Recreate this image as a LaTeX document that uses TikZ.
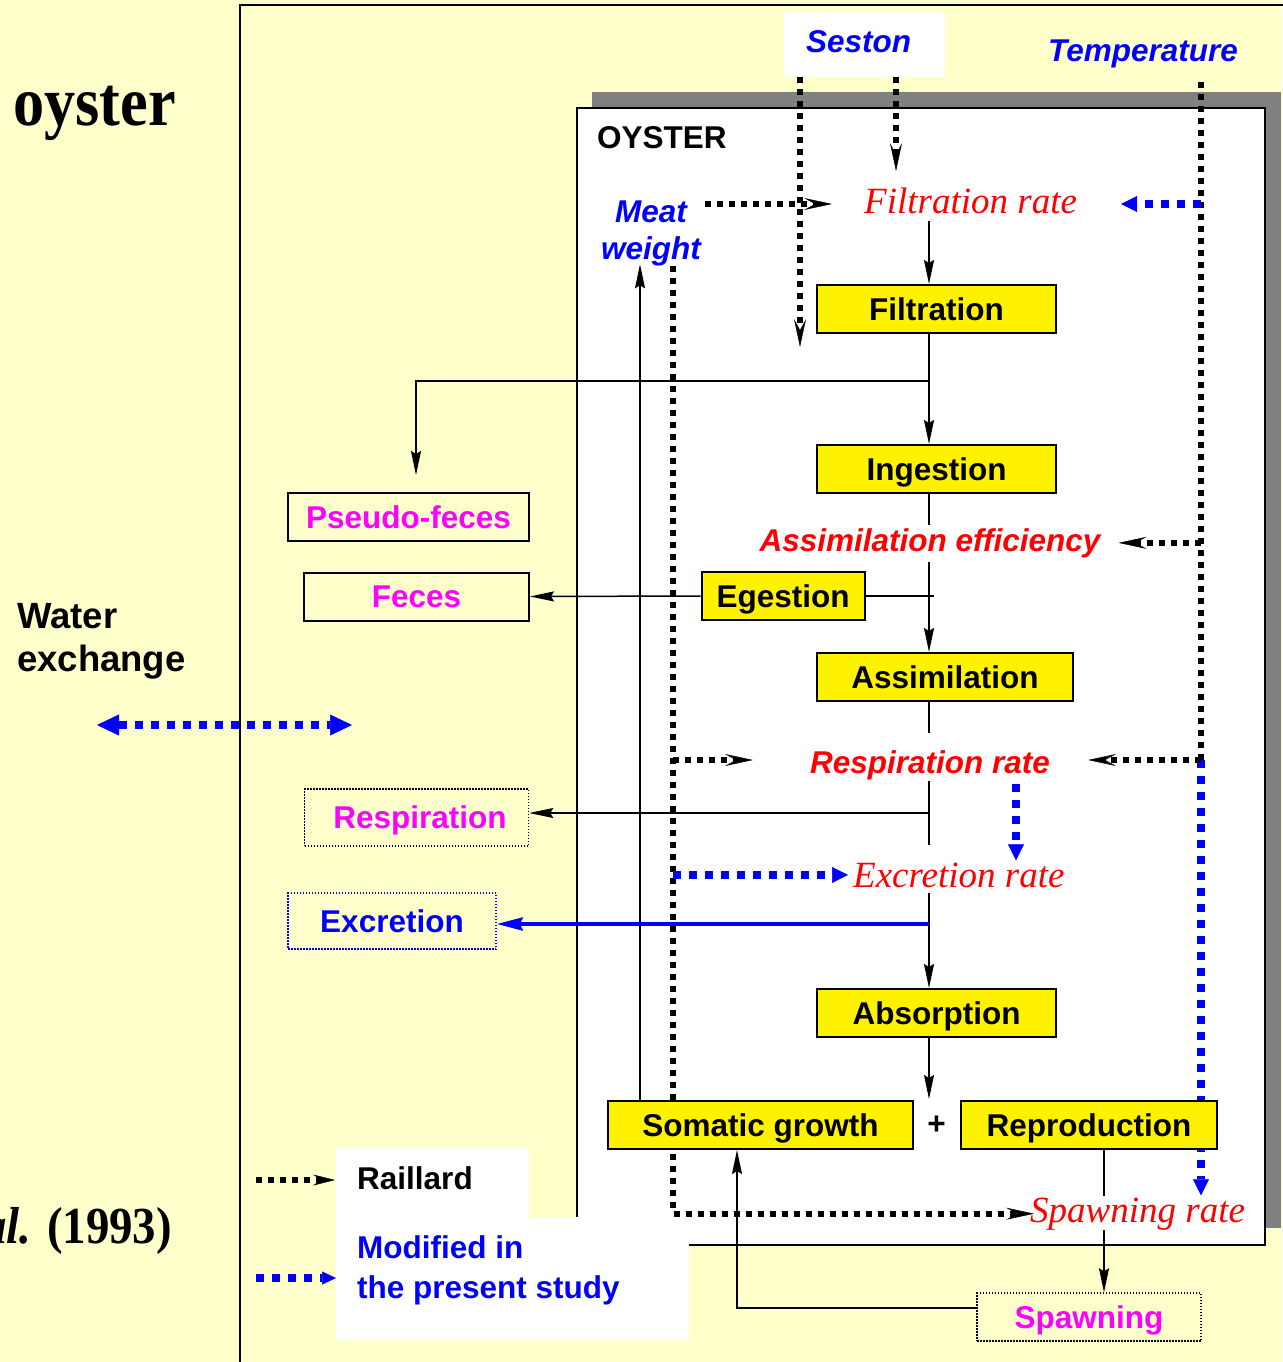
\documentclass[tikz,border=0pt]{standalone}
\usepackage{graphicx}
\usepackage{fontspec}
\setmainfont{Liberation Serif}
\setsansfont{Liberation Sans}
\usetikzlibrary{arrows.meta}
\definecolor{bgyellow}{RGB}{255,255,204}
\definecolor{shadowgray}{RGB}{128,128,128}
\definecolor{mag}{RGB}{255,0,255}
\newcommand{\sz}{\fontsize{31.5}{37}\selectfont}
\pgfdeclarelayer{bglayer}
\pgfdeclarelayer{connlayer}
\pgfsetlayers{bglayer,connlayer,main}
\begin{document}
\begin{tikzpicture}[x=1pt,y=-1pt,
  ybox/.style={draw, line width=2pt, fill=yellow, minimum height=48pt, inner sep=0pt, text height=22.6pt, text depth=0pt, font=\sffamily\bfseries\sz},
  obox/.style={draw, line width=2pt, minimum height=48pt, inner sep=0pt, text height=22.6pt, text depth=0pt, font=\sffamily\bfseries\sz, text=mag},
  dbox/.style={draw, line width=1.5pt, dash pattern=on 1.5pt off 1.5pt, inner sep=0pt, text height=22.6pt, text depth=0pt, font=\sffamily\bfseries\sz, text=mag},
  lbl/.style={inner sep=0pt, font=\sffamily\bfseries\sz},
  ilbl/.style={inner sep=0pt, font=\sffamily\bfseries\itshape\sz},
  rlbl/.style={inner sep=0pt, text=red, font=\rmfamily\itshape\fontsize{37}{40}\selectfont},
  line/.style={line width=1.5pt},
  flow/.style={line width=1.5pt, -{Stealth[length=24pt,width=10pt,inset=3pt]}},
  bflow/.style={blue, line width=4pt, -{Stealth[length=26pt,width=13pt,inset=3pt]}},
  kdot/.style={line width=6pt, dash pattern=on 6pt off 6pt},
  kdotarr/.style={kdot, -{Stealth[length=28pt,width=12pt,inset=11pt,line width=0.5pt]}},
  bdot/.style={blue, line width=8pt, dash pattern=on 8pt off 8pt},
  bdotarr/.style={bdot, -{Triangle[length=16pt,width=16pt,line width=0.5pt]}},
]
\useasboundingbox (0,0) rectangle (1282,1362);
\begin{pgfonlayer}{bglayer}
  \fill[bgyellow] (0,0) rectangle (1282,1362);
  \draw[line width=2.5pt] (240,1370) -- (240,5) -- (1290,5);
  \fill[shadowgray] (592,92) rectangle (1281,1228);
  \draw[fill=white, line width=2pt] (577,108) rectangle (1265,1245);
  \fill[white] (336,1148) rectangle (529,1219);
  \fill[white] (336,1217) rectangle (689,1340);
\end{pgfonlayer}

% left titles
\node[inner sep=0pt, anchor=base west, font=\rmfamily\bfseries\fontsize{70}{70}\selectfont] (title) at (13,125) {\scalebox{0.89}[1]{oyster}};
\node[inner sep=0pt, anchor=base east, font=\rmfamily\bfseries\fontsize{52}{52}\selectfont] (cite) at (172,1243) {\scalebox{0.9}[1]{\textit{al.} (1993)}};
\node[inner sep=0pt, font=\sffamily\bfseries\fontsize{36.5}{43}\selectfont, align=left, anchor=north west] (water) at (17,603) {Water\\exchange};

% inputs
\node[fill=white, inner sep=0pt, minimum width=161pt, minimum height=65pt] (sestonbox) at (864.5,44.5) {};
\node[ilbl, text=blue, anchor=base west] (seston) at (806,53) {Seston};
\node[ilbl, text=blue, anchor=base west] (temp) at (1048,62) {Temperature};
\node[lbl, anchor=base west] (oyst) at (597,149) {OYSTER};
\node[ilbl, text=blue, align=center] (meat) at (651,233.5) {Meat\\weight};

% rates
\node[rlbl, anchor=base west] (filtrate) at (864,213) {Filtration rate};
\node[ilbl, text=red, anchor=base] (assimeff) at (930,551) {Assimilation efficiency};
\node[ilbl, text=red, anchor=base] (resprate) at (930,773) {Respiration rate};
\node[rlbl, anchor=base west] (excrate) at (853,887) {Excretion rate};
\node[rlbl, anchor=base west] (spawnrate) at (1030,1222) {Spawning rate};

% process boxes
\node[ybox, minimum width=239pt] (filtbox) at (936.5,309) {Filtration};
\node[ybox, minimum width=239pt] (ingest) at (936.5,469) {Ingestion};
\node[ybox, minimum width=163pt] (egest) at (783,596) {Egestion};
\node[ybox, minimum width=256pt] (assim) at (945,677) {Assimilation};
\node[ybox, minimum width=239pt] (absorp) at (936.5,1013) {Absorption};
\node[ybox, minimum width=305pt] (somatic) at (760.5,1125) {Somatic growth};
\node[ybox, minimum width=256pt] (repro) at (1089,1125) {Reproduction};
\node[lbl] (plus) at (936.5,1125) {+};

% outputs
\node[obox, minimum width=241pt] (pseudo) at (408.5,517) {Pseudo-feces};
\node[obox, minimum width=225pt] (feces) at (416.5,596.5) {Feces};
\node[dbox, minimum width=224pt, minimum height=57pt] (respbox) at (416.5,817.5) {\hspace*{7pt}Respiration};
\node[dbox, draw=blue, text=blue, minimum width=208pt, minimum height=56pt] (excbox) at (392,921) {Excretion};
\node[dbox, minimum width=224pt, minimum height=48pt] (spawnbox) at (1089,1317) {Spawning};

% legend
\node[lbl, anchor=base west] (raillard) at (357,1189) {Raillard};
\node[inner sep=0pt, font=\sffamily\bfseries\fontsize{31.5}{40}\selectfont, text=blue, align=left, anchor=north west] (modif) at (357,1235.5) {Modified in\\the present study};

% helper coordinates
\coordinate (sp) at (929,0);
\coordinate (xt) at (1201,0);
\coordinate (xd) at (673,0);
\coordinate (xm) at (640,0);
\coordinate (xs2) at (896,0);
\coordinate (xe) at (1016,0);
\coordinate (xpf) at (416,0);
\coordinate (xr) at (1104,0);
\coordinate (xsg) at (737,0);
\coordinate (s1end) at (800,347);
\coordinate (tf) at (1201,204);
\coordinate (tj) at (1201,760);
\coordinate (pj) at (929,381);
\coordinate (rj) at (929,813);
\coordinate (ej) at (929,924);
\coordinate (plustop) at (929,1099);
\coordinate (wl) at (97,725);
\coordinate (wr) at (352,725);
\coordinate (lk) at (256,1180);
\coordinate (lb) at (256,1278);

\begin{pgfonlayer}{connlayer}
  % Seston
  \draw[kdotarr] (sestonbox.south -| s1end) -- (s1end);
  \draw[kdotarr, shorten >=16pt] (sestonbox.south -| xs2) -- (filtrate.north -| xs2);
  % Temperature
  \draw[kdot, shorten <=13pt] (temp.south -| xt) -- (tj);
  \draw[bdotarr, shorten >=2pt] (tj) -- (spawnrate.north -| xt);
  \draw[bdot, -{Triangle[length=16pt,width=16pt,line width=0.5pt]}, shorten >=44pt] (tf) -- (tf -| filtrate.east);
  \draw[kdotarr, shorten >=18pt] (assimeff.east -| xt) -- (assimeff.east);
  \draw[kdotarr, shorten >=38pt] (tj) -- (resprate.east |- tj);
  % Meat weight
  \draw[kdotarr, shorten <=4pt, shorten >=32pt] (meat.east |- tf) -- (filtrate.west |- tf);
  \draw[kdotarr, shorten >=-4pt] (meat.south -| xd) |- (spawnrate.west);
  \draw[kdotarr, shorten >=57pt] (xd |- tj) -- (resprate.west |- tj);
  \draw[bdotarr, shorten >=5pt] (xd |- excrate.west) -- (excrate.west);
  \draw[flow, shorten >=-2pt] (somatic.north -| xm) -- (meat.south -| xm);
  % respiration rate -> excretion rate
  \draw[bdotarr, shorten <=4pt, shorten >=2pt] (resprate.south -| xe) -- (excrate.north -| xe);
  % main spine
  \draw[flow, shorten <=7pt] (filtrate.south -| sp) -- (filtbox.north -| sp);
  \draw[flow] (filtbox.south -| sp) -- (ingest.north -| sp);
  \draw[flow, shorten >=17pt] (pj) -| (pseudo.north -| xpf);
  \draw[line, shorten >=3pt] (ingest.south -| sp) -- (assimeff.north -| sp);
  \draw[flow, shorten <=4pt] (assimeff.south -| sp) -- (assim.north -| sp);
  \draw[line, shorten >=-5pt] (egest.east) -- (egest.east -| sp);
  \draw[flow] (egest.west) -- (feces.east);
  \draw[line, shorten >=17pt] (assim.south -| sp) -- (resprate.north -| sp);
  \draw[line, shorten <=1pt, shorten >=17pt] (resprate.south -| sp) -- (excrate.north -| sp);
  \draw[flow] (rj) -- (respbox.east |- rj);
  \draw[flow, shorten <=5pt] (excrate.south -| sp) -- (absorp.north -| sp);
  \draw[bflow] (ej) -- (excbox.east |- ej);
  \draw[flow] (absorp.south -| sp) -- (plustop);
  % reproduction -> spawning
  \draw[line, shorten >=1pt] (repro.south -| xr) -- (spawnrate.north -| xr);
  \draw[flow] (spawnrate.south -| xr) -- (spawnbox.north -| xr);
  \draw[flow] ([yshift=9pt]spawnbox.west) -| (somatic.south -| xsg);
  % water exchange
  \draw[bdot, {Triangle[length=22pt,width=21pt,line width=0.5pt]}-{Triangle[length=22pt,width=21pt,line width=0.5pt]}] (wl) -- (wr);
  % legend
  \draw[kdot, -{Stealth[length=22pt,width=11pt,inset=8pt,line width=0.5pt]}, shorten >=22pt] (lk) -- (raillard.west |- lk);
  \draw[bdot, -{Triangle[length=14pt,width=13pt,line width=0.5pt]}, shorten >=21pt] (lb) -- (modif.west |- lb);
\end{pgfonlayer}
\end{tikzpicture}
\end{document}
